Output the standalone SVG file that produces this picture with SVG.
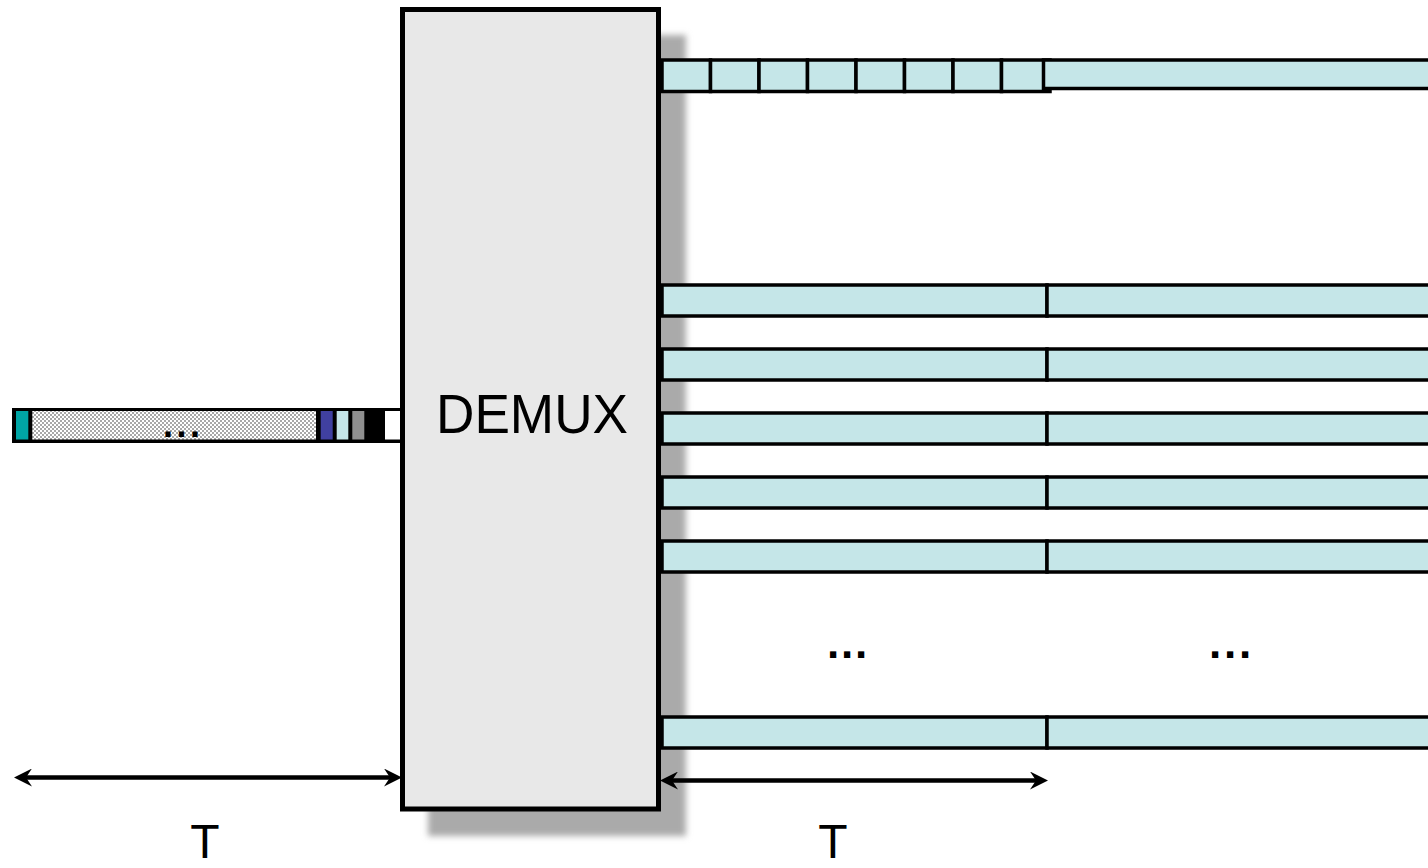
<svg xmlns="http://www.w3.org/2000/svg" width="1428" height="868" viewBox="0 0 1428 868">
<style>
.cell{fill:#c5e6e8;stroke:#000;stroke-width:3.5}
.dim{stroke:#000;stroke-width:4.5;fill:none}
.lbl{font-family:"Liberation Sans",Arial,sans-serif;fill:#000}
.dots{font-family:"Liberation Sans",Arial,sans-serif;font-weight:bold;fill:#000}
</style>
<defs>
<filter id="blur" x="-10%" y="-10%" width="120%" height="120%"><feGaussianBlur stdDeviation="3"/></filter>
<pattern id="chk" width="4" height="4" patternUnits="userSpaceOnUse">
<rect width="4" height="4" fill="#ffffff"/>
<rect width="2" height="2" fill="#a8a8a8"/>
<rect x="2" y="2" width="2" height="2" fill="#a8a8a8"/>
</pattern>
<marker id="ah" viewBox="0 0 18 18" refX="6" refY="9" markerWidth="18" markerHeight="18" markerUnits="userSpaceOnUse" orient="auto-start-reverse">
<path d="M0,0 L18,9 L0,18 L6,9 Z" fill="#000"/>
</marker>
</defs>
<rect width="1428" height="868" fill="#fff"/>

<g id="demux">
<rect x="428" y="35" width="258" height="801" fill="#aaaaaa" filter="url(#blur)"/>
<rect x="402.5" y="9.5" width="256" height="799.5" fill="#e8e8e8" stroke="#000" stroke-width="5"/>
<text class="lbl" x="532" y="433" font-size="56" text-anchor="middle" textLength="192" lengthAdjust="spacingAndGlyphs">DEMUX</text>
</g>

<g id="input">
<rect x="13.5" y="409.5" width="387" height="32" fill="#000" stroke="#000" stroke-width="3"/>
<rect x="16" y="411" width="12.3" height="28.5" fill="#00a5a5"/>
<rect x="32.3" y="411" width="283.7" height="28.5" fill="url(#chk)"/>
<rect x="320.7" y="411" width="12" height="28.5" fill="#4040a0"/>
<rect x="336.7" y="411" width="11.6" height="28.5" fill="#c5e6e8"/>
<rect x="352.3" y="411" width="12" height="28.5" fill="#8f8f8f"/>
<rect x="385" y="411" width="15" height="28.5" fill="#fff"/>
<text class="dots" x="163" y="437" font-size="36" letter-spacing="3.5">...</text>
</g>

<g id="row-top">
<rect class="cell" x="662" y="60" width="48.5" height="31.5"/>
<rect class="cell" x="710.5" y="60" width="48.5" height="31.5"/>
<rect class="cell" x="759" y="60" width="48.5" height="31.5"/>
<rect class="cell" x="807.5" y="60" width="48.5" height="31.5"/>
<rect class="cell" x="856" y="60" width="48.5" height="31.5"/>
<rect class="cell" x="904.5" y="60" width="48.5" height="31.5"/>
<rect class="cell" x="953" y="60" width="48.5" height="31.5"/>
<rect class="cell" x="1001.5" y="60" width="48.5" height="31.5"/>
<rect class="cell" x="1043.5" y="60" width="390" height="28.5"/>
</g>

<g id="row-1">
<rect class="cell" x="662" y="285" width="385" height="31"/>
<rect class="cell" x="1047" y="285" width="386" height="31"/>
</g>
<g id="row-2">
<rect class="cell" x="662" y="349" width="385" height="31"/>
<rect class="cell" x="1047" y="349" width="386" height="31"/>
</g>
<g id="row-3">
<rect class="cell" x="662" y="413" width="385" height="31"/>
<rect class="cell" x="1047" y="413" width="386" height="31"/>
</g>
<g id="row-4">
<rect class="cell" x="662" y="477" width="385" height="31"/>
<rect class="cell" x="1047" y="477" width="386" height="31"/>
</g>
<g id="row-5">
<rect class="cell" x="662" y="541" width="385" height="31"/>
<rect class="cell" x="1047" y="541" width="386" height="31"/>
</g>
<g id="row-n">
<rect class="cell" x="662" y="717" width="385" height="31"/>
<rect class="cell" x="1047" y="717" width="386" height="31"/>
</g>

<g id="ellipses">
<text class="dots" x="827" y="658" font-size="44" letter-spacing="1.8">...</text>
<text class="dots" x="1209" y="658" font-size="44" letter-spacing="2.8">...</text>
</g>

<g id="connectors">
<line class="dim" x1="26" y1="777.5" x2="390" y2="777.5" marker-start="url(#ah)" marker-end="url(#ah)"/>
<line class="dim" x1="672" y1="780.5" x2="1036" y2="780.5" marker-start="url(#ah)" marker-end="url(#ah)"/>
</g>

<g id="labels">
<text class="lbl" x="205" y="858" font-size="48" text-anchor="middle">T</text>
<text class="lbl" x="833" y="858" font-size="48" text-anchor="middle">T</text>
</g>
</svg>
